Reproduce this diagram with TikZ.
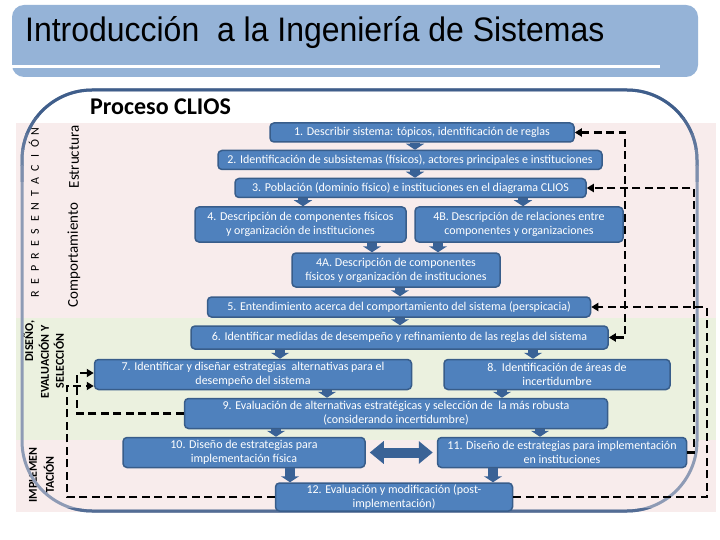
\documentclass[tikz,border=0pt]{standalone}
\usepackage{fontspec}
\setmainfont{Carlito}
\newfontfamily\titlefont{Liberation Sans}
\usetikzlibrary{arrows.meta}
\definecolor{titlebg}{HTML}{95B3D7}
\definecolor{pinkbg}{HTML}{F8ECEC}
\definecolor{greenbg}{HTML}{EBF1DF}
\definecolor{boxfill}{HTML}{4F81BD}
\definecolor{boxline}{HTML}{385D8A}
\definecolor{blkarrow}{HTML}{3A6296}
\definecolor{outlineD}{HTML}{3F5E8B}
\definecolor{outlineL}{HTML}{8E9BB5}
\newcommand\spl[1]{\makebox[12.5pt]{#1}}
\begin{document}
\begin{tikzpicture}[x=1pt,y=-1pt,
  proc/.style={draw=boxline, fill=boxfill, line width=1.5pt, rounded corners=4pt,
    text=white, font=\fontsize{12}{14}\selectfont, align=center, inner sep=0pt},
  blk/.style={draw=blkarrow, line width=10pt, -{Triangle[width=18pt,length=6pt]}},
  dblk/.style={draw=blkarrow, line width=10pt,
    {Triangle[width=22pt,length=14pt]}-{Triangle[width=22pt,length=14pt]}},
  dsh/.style={draw=black, line width=2.8pt, dash pattern=on 8pt off 4.5pt},
  tipd/.style={-{Triangle[width=8pt,length=7pt]}},
  sidelbl/.style={rotate=90, inner sep=0pt, font=\fontsize{15}{17}\selectfont},
  sidebold/.style={rotate=90, inner sep=0pt, font=\bfseries\fontsize{12}{15}\selectfont, align=center}]
\useasboundingbox (0,0) rectangle (720,540);
\fill[white] (0,0) rectangle (720,540);
% title bar
\fill[titlebg, rounded corners=12pt] (12,5) rectangle (698,77);
\fill[white] (12,65) rectangle (660,68.5);
\node[anchor=base west, inner sep=0pt] (title) at (25,42)
  {\scalebox{0.94}[1]{\fontsize{34}{34}\selectfont\titlefont Introducción\ \ a la Ingeniería de Sistemas}};
% bands
\fill[pinkbg] (16,123) rectangle (716,318);
\fill[greenbg] (16,318) rectangle (716,440);
\fill[pinkbg] (16,440) rectangle (716,512);
% heading
\node[anchor=base west, inner sep=0pt, font=\bfseries\fontsize{24}{26}\selectfont] (head) at (90,115) {Proceso CLIOS};
% side labels
\node[rotate=90, inner sep=0pt, font=\fontsize{12}{14}\selectfont] (repr) at (34,212.5)
  {\spl{R}\spl{E}\spl{P}\spl{R}\spl{E}\spl{S}\spl{E}\spl{N}\spl{T}\spl{A}\spl{C}\spl{I}\spl{Ó}\spl{N}};
\node[sidelbl] (estr) at (74,157) {Estructura};
\node[sidelbl] (comp) at (74,255) {Comportamiento};
\node[sidebold] (dis1) at (29,341) {DISEÑO,};
\node[sidebold] (dis2) at (44,362) {EVALUACIÓN Y};
\node[sidebold] (dis3) at (59,361) {SELECCIÓN};
\node[sidebold] (imp1) at (33,475) {IMPLEMEN};
\node[sidebold] (imp2) at (49,475) {TACIÓN};
% outline with fading colour
\draw[outlineL, line width=3pt, rounded corners=70pt] (22,90) rectangle (697,511);
\foreach \ya/\yb/\p in {0/118/100, 118/134/80, 134/150/60, 150/166/40, 166/182/20}{
  \begin{scope}
    \clip (0,\ya) rectangle (720,\yb);
    \draw[outlineD!\p!outlineL, line width=3pt, rounded corners=70pt] (22,90) rectangle (697,511);
  \end{scope}
}
\begin{scope}
  \clip (0,508) rectangle (720,516);
  \draw[outlineD!75!outlineL, line width=3pt, rounded corners=70pt] (22,90) rectangle (697,511);
\end{scope}
% process boxes
\node[proc, minimum width=304pt, minimum height=19pt] (b1) at (422,132.5) {1. Describir sistema: tópicos, identificación de reglas};
\node[proc, minimum width=384pt, minimum height=19pt] (b2) at (410,160) {2. Identificación de subsistemas (físicos), actores principales e instituciones};
\node[proc, minimum width=351pt, minimum height=19pt] (b3) at (410.5,188) {3. Población (dominio físico) e instituciones en el diagrama CLIOS};
\node[proc, minimum width=211pt, minimum height=35pt] (b4) at (300.5,224.5) {4. Descripción de componentes físicos\\y organización de instituciones};
\node[proc, minimum width=208pt, minimum height=35pt] (b4b) at (519,224.5) {4B. Descripción de relaciones entre\\componentes y organizaciones};
\node[proc, minimum width=208pt, minimum height=34pt] (b4a) at (396,270) {4A. Descripción de componentes\\físicos y organización de instituciones};
\node[proc, minimum width=383pt, minimum height=20pt] (b5) at (399,307) {5. Entendimiento acerca del comportamiento del sistema (perspicacia)};
\node[proc, minimum width=417pt, minimum height=23pt] (b6) at (399.5,337.5) {6. Identificar medidas de desempeño y refinamiento de las reglas del sistema};
\node[proc, minimum width=317pt, minimum height=30pt] (b7) at (253,374.5) {7. Identificar y diseñar estrategias\ \ alternativas para el\\desempeño del sistema};
\node[proc, minimum width=226pt, minimum height=30pt] (b8) at (557,374.5) {8.\ \ Identificación de áreas de\\incertidumbre};
\node[proc, minimum width=423pt, minimum height=30pt] (b9) at (396,413.5) {9. Evaluación de alternativas estratégicas y selección de\ \ la más robusta\\(considerando incertidumbre)};
\node[proc, minimum width=242pt, minimum height=30pt] (b10) at (244,452.5) {10. Diseño de estrategias para\\implementación física};
\node[proc, minimum width=249pt, minimum height=30pt] (b11) at (562,452.5) {11. Diseño de estrategias para implementación\\en instituciones};
\node[proc, minimum width=237pt, minimum height=28pt] (b12) at (394,497) {12. Evaluación y modificación (post-\\implementación)};
% block arrows
\foreach \s/\t/\xx in {b1/b2/415, b2/b3/415, b3/b4/303, b3/b4b/523, b4/b4a/372, b4b/b4a/438,
    b4a/b5/400, b5/b6/400, b6/b7/280, b6/b8/533, b7/b9/327, b8/b9/502,
    b9/b10/276, b9/b11/540, b10/b12/290, b11/b12/493}{
  \coordinate (ax) at (\xx,0);
  \draw[blk] (\s.south -| ax) -- (\t.north -| ax);
}
\draw[dblk] ([xshift=4pt]b10.east) -- ([xshift=-4pt]b11.west);
% dashed feedback lines
\draw[dsh, {Triangle[width=8pt,length=7pt]}-{Triangle[width=8pt,length=7pt]}]
  (b1.east) -- (625,132.5) -- (625,337.5) -- (b6.east);
\draw[dsh, tipd] (b11.east) -- (694,452.5) -- (694,188) -- (b3.east);
\draw[dsh, tipd] (b12.east) -- (707,497) -- (707,307) -- (b5.east);
\draw[dsh, tipd] (b12.west) -- (67,497) -- (67,386) -- ([yshift=-11.5pt]b7.west);
\draw[dsh, tipd] (b9.west) -- (77,413.5) -- (77,373) -- ([yshift=1.5pt]b7.west);
\end{tikzpicture}
\end{document}
